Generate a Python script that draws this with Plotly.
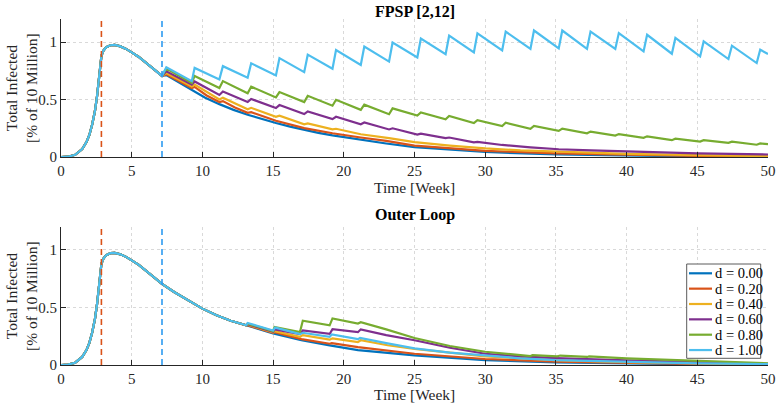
import plotly.graph_objects as go
from plotly.subplots import make_subplots

# ---------------- data ----------------
labels = ["d = 0.00", "d = 0.20", "d = 0.40", "d = 0.60", "d = 0.80", "d = 1.00"]
colors = ["#0072BD", "#D95319", "#EDB120", "#7E2F8E", "#77AC30", "#4DBEEE"]

t_vline_red = 2.857
t_vline_blue = 7.143

# common initial epidemic curve (weeks, % of 10 million)
t_pre = [0, 0.5, 1.0, 1.5, 1.8, 2.0, 2.2, 2.4, 2.55, 2.7, 2.86, 3.0, 3.2, 3.5, 3.8, 4.2, 4.6, 5.0, 5.5, 6.0, 6.5, 7.14]
v_pre = [0, 0.003, 0.02, 0.07, 0.13, 0.19, 0.28, 0.40, 0.53, 0.70, 0.88, 0.925, 0.955, 0.972, 0.975, 0.962, 0.94, 0.91, 0.87, 0.82, 0.77, 0.705]

# ---- FPSP [2,12] (top) ----
top_t0 = [7.14, 7.45, 8.2, 9.25, 10.2, 11.2, 12.2, 13.2, 14.2, 15.2, 16.2, 17.2, 18.2, 19.2, 21.2, 23, 25, 27.5, 30, 35, 40, 45, 50]
top_v0 = [0.705, 0.712, 0.66, 0.585, 0.515, 0.46, 0.41, 0.368, 0.33, 0.296, 0.265, 0.237, 0.21, 0.188, 0.15, 0.118, 0.086, 0.062, 0.044, 0.022, 0.011, 0.005, 0.002]

top_t1 = [7.14, 7.45, 8.3, 9.25, 9.45, 10.3, 11.2, 11.45, 12.3, 13.2, 13.45, 15.2, 17.2, 19.2, 21.2, 23, 25, 27.5, 30, 35, 40, 45, 50]
top_v1 = [0.705, 0.72, 0.665, 0.60, 0.61, 0.535, 0.478, 0.486, 0.43, 0.385, 0.39, 0.316, 0.252, 0.207, 0.17, 0.14, 0.10, 0.075, 0.054, 0.032, 0.018, 0.01, 0.005]

top_t2 = [7.14, 7.45, 9.25, 9.45, 11.2, 11.45, 13.2, 13.45, 15.2, 15.45, 17.2, 17.45, 19.2, 19.45, 21.2, 23.2, 25, 27.5, 30, 32.5, 35, 40, 45, 50]
top_v2 = [0.705, 0.73, 0.614, 0.63, 0.50, 0.515, 0.415, 0.428, 0.35, 0.36, 0.285, 0.293, 0.24, 0.246, 0.198, 0.165, 0.13, 0.10, 0.075, 0.058, 0.046, 0.028, 0.016, 0.008]

top_t3 = [7.14, 7.45, 9.25, 9.45, 11.2, 11.45, 13.2, 13.45, 15.2, 15.45, 17.2, 17.45, 19.2, 19.45, 21.2, 21.45, 23.2, 23.45, 25.2, 25.45, 27.2, 27.45, 29.2, 29.45, 31.2, 33.2, 35.2, 37.5, 40, 45, 50]
top_v3 = [0.705, 0.745, 0.63, 0.657, 0.54, 0.57, 0.478, 0.505, 0.426, 0.452, 0.374, 0.397, 0.33, 0.35, 0.285, 0.30, 0.24, 0.25, 0.195, 0.203, 0.165, 0.17, 0.128, 0.132, 0.105, 0.085, 0.068, 0.058, 0.048, 0.032, 0.022]

top_t4 = [7.14, 7.45, 9.25, 9.45, 11.2, 11.45, 13.2, 13.45, 15.2, 15.45, 17.2, 17.45, 19.2, 19.45, 21.2, 21.45, 23.2, 23.45, 25.2, 25.45, 27.2, 27.45, 29.2, 29.45, 31.2, 31.45, 33.2, 33.45, 35.2, 35.45, 37.2, 37.45, 39.2, 39.45, 41.2, 41.45, 43.2, 43.45, 45.2, 45.45, 47.2, 47.45, 49.2, 49.45, 50.0]
top_v4 = [0.705, 0.77, 0.645, 0.705, 0.60, 0.66, 0.555, 0.612, 0.518, 0.565, 0.478, 0.532, 0.446, 0.498, 0.41, 0.455, 0.372, 0.423, 0.36, 0.388, 0.328, 0.357, 0.295, 0.321, 0.27, 0.298, 0.245, 0.271, 0.227, 0.247, 0.206, 0.221, 0.187, 0.20, 0.167, 0.18, 0.147, 0.16, 0.135, 0.147, 0.123, 0.134, 0.107, 0.118, 0.113]

top_t5 = [7.14, 7.45, 9.25, 9.45, 11.2, 11.45, 13.2, 13.45, 15.2, 15.45, 17.2, 17.45, 19.2, 19.45, 21.2, 21.45, 23.2, 23.45, 25.2, 25.45, 27.2, 27.45, 29.2, 29.45, 31.2, 31.45, 33.2, 33.45, 35.2, 35.45, 37.2, 37.45, 39.2, 39.45, 41.2, 41.45, 43.2, 43.45, 45.2, 45.45, 47.2, 47.45, 49.2, 49.45, 50.0]
top_v5 = [0.705, 0.78, 0.66, 0.775, 0.675, 0.79, 0.69, 0.815, 0.71, 0.86, 0.738, 0.89, 0.767, 0.93, 0.80, 0.96, 0.83, 0.995, 0.865, 1.03, 0.895, 1.055, 0.91, 1.075, 0.927, 1.09, 0.94, 1.10, 0.945, 1.10, 0.94, 1.09, 0.94, 1.078, 0.918, 1.063, 0.898, 1.035, 0.875, 1.005, 0.852, 0.968, 0.817, 0.933, 0.895]

# ---- Outer Loop (bottom) ----
bot_t_common = [8.0, 9.0, 10.0, 11.0, 12.0, 13.1]
bot_v_common = [0.635, 0.565, 0.49, 0.432, 0.385, 0.345]

bot_t0 = [13.2, 15.0, 17.0, 19.0, 21.0, 25, 30, 35, 40, 45, 50]
bot_v0 = [0.342, 0.275, 0.215, 0.17, 0.13, 0.083, 0.042, 0.022, 0.012, 0.006, 0.003]

bot_t1 = [13.2, 15.0, 15.1, 17.0, 19.0, 19.15, 21.0, 25, 30, 35, 40, 45, 50]
bot_v1 = [0.345, 0.28, 0.285, 0.225, 0.185, 0.19, 0.155, 0.098, 0.052, 0.03, 0.017, 0.009, 0.004]

bot_t2 = [13.2, 15.0, 15.1, 16.9, 17.1, 19.0, 19.2, 21.0, 21.2, 23.1, 25, 30, 35, 40, 45, 50]
bot_v2 = [0.35, 0.285, 0.295, 0.245, 0.26, 0.22, 0.232, 0.20, 0.215, 0.172, 0.14, 0.075, 0.042, 0.025, 0.013, 0.006]

bot_t3 = [13.2, 15.0, 15.1, 16.9, 17.1, 19.0, 19.2, 21.0, 21.2, 23, 25, 27.5, 30, 32.5, 35, 40, 45, 50]
bot_v3 = [0.355, 0.29, 0.31, 0.27, 0.30, 0.27, 0.312, 0.285, 0.31, 0.26, 0.215, 0.15, 0.098, 0.075, 0.06, 0.04, 0.022, 0.01]

bot_t4 = [13.2, 15.0, 15.1, 16.9, 17.1, 19.0, 19.2, 21.0, 21.2, 23, 25, 27.5, 30, 33.2, 33.35, 35.1, 35.3, 37.2, 37.35, 40, 45, 50]
bot_v4 = [0.36, 0.295, 0.33, 0.287, 0.385, 0.345, 0.405, 0.36, 0.372, 0.31, 0.235, 0.165, 0.115, 0.078, 0.085, 0.075, 0.082, 0.07, 0.075, 0.057, 0.033, 0.015]

bot_t5 = [13.2, 15.0, 15.15, 16.9, 17.1, 19.0, 19.15, 21.0, 21.15, 23, 25, 27.5, 30, 32.5, 35, 40, 45, 50]
bot_v5 = [0.365, 0.30, 0.325, 0.268, 0.28, 0.245, 0.265, 0.225, 0.235, 0.19, 0.145, 0.108, 0.08, 0.058, 0.042, 0.025, 0.014, 0.008]

x_ticks = [0, 5, 10, 15, 20, 25, 30, 35, 40, 45, 50]
y_ticks = [0, 0.5, 1]
y_tick_text = ["0", "0.5", "1"]

top_series = [(top_t0, top_v0), (top_t1, top_v1), (top_t2, top_v2),
              (top_t3, top_v3), (top_t4, top_v4), (top_t5, top_v5)]
bot_series = [(bot_t0, bot_v0), (bot_t1, bot_v1), (bot_t2, bot_v2),
              (bot_t3, bot_v3), (bot_t4, bot_v4), (bot_t5, bot_v5)]

# ---------------- figure ----------------
W, H = 777, 408
ML, MR, MT, MB = 61, 9, 19, 43
FONT = "Liberation Serif, Times New Roman, serif"
fig = make_subplots(rows=2, cols=1, vertical_spacing=0.202)

for i in range(6):
    t, v = top_series[i]
    fig.add_trace(go.Scatter(x=t_pre + t, y=v_pre + v, mode="lines",
                             line=dict(color=colors[i], width=2.2),
                             name=labels[i], showlegend=False), row=1, col=1)
for i in range(6):
    t, v = bot_series[i]
    fig.add_trace(go.Scatter(x=t_pre + bot_t_common + t, y=v_pre + bot_v_common + v,
                             mode="lines", line=dict(color=colors[i], width=2.2),
                             name=labels[i], showlegend=False), row=2, col=1)

for r in (1, 2):
    fig.add_trace(go.Scatter(x=[t_vline_red, t_vline_red], y=[0, 1.2], mode="lines",
                             line=dict(color="#D95319", width=1.6, dash="6px,4px"),
                             showlegend=False, hoverinfo="skip"), row=r, col=1)
    fig.add_trace(go.Scatter(x=[t_vline_blue, t_vline_blue], y=[0, 1.2], mode="lines",
                             line=dict(color="#2D9BF0", width=1.6, dash="6px,4px"),
                             showlegend=False, hoverinfo="skip"), row=r, col=1)

axis_common = dict(showgrid=True, gridcolor="#d9d9d9", griddash="dot", gridwidth=1,
                   zeroline=False, showline=True, linecolor="#262626", linewidth=1,
                   ticks="inside", ticklen=5, tickcolor="#262626", automargin=False,
                   tickfont=dict(family=FONT, size=15, color="#262626"))
fig.update_xaxes(range=[0, 50], tickvals=x_ticks, **axis_common)
fig.update_yaxes(range=[0, 1.2], tickvals=y_ticks, ticktext=y_tick_text, **axis_common)
fig.update_xaxes(domain=[0, 1])
fig.update_yaxes(domain=[0.601, 1.0], row=1, col=1)
fig.update_yaxes(domain=[0.0, 0.399], row=2, col=1)

plot_w = W - ML - MR
plot_h = H - MT - MB
def px(xp):   # window x pixel -> paper x
    return (xp - ML) / plot_w
def py(yp):   # window y pixel -> paper y
    return (H - MB - yp) / plot_h

ann = []
ann.append(dict(text="<b>FPSP [2,12]</b>", x=0.5, y=py(12), xref="paper", yref="paper",
                showarrow=False, xanchor="center", yanchor="middle",
                font=dict(family=FONT, size=16, color="#000000")))
ann.append(dict(text="<b>Outer Loop</b>", x=0.5, y=py(215), xref="paper", yref="paper",
                showarrow=False, xanchor="center", yanchor="middle",
                font=dict(family=FONT, size=16, color="#000000")))
for yy in (187, 395):
    ann.append(dict(text="Time [Week]", x=0.5, y=py(yy), xref="paper", yref="paper",
                    showarrow=False, xanchor="center", yanchor="middle",
                    font=dict(family=FONT, size=15.5, color="#262626")))
for yy in (88, 296):
    ann.append(dict(text="Total Infected<br>[% of 10 Million]", x=px(21), y=py(yy),
                    xref="paper", yref="paper", textangle=-90, showarrow=False,
                    xanchor="center", yanchor="middle",
                    font=dict(family=FONT, size=15.5, color="#262626")))

# legend box (MATLAB-style, compact), placed in the bottom panel
shapes = []
shapes.append(dict(type="rect", xref="paper", yref="paper", layer="above",
                   x0=px(686.7), x1=px(760.7), y0=py(358.3), y1=py(264),
                   fillcolor="white", line=dict(color="#5a5a5a", width=1)))
row_y0, row_dy = 273.3, 15.35
for i in range(6):
    yc = row_y0 + i * row_dy
    shapes.append(dict(type="line", xref="paper", yref="paper", layer="above",
                       x0=px(689), x1=px(712), y0=py(yc), y1=py(yc),
                       line=dict(color=colors[i], width=2.2)))
    ann.append(dict(text=labels[i], x=px(713), y=py(yc), xref="paper", yref="paper",
                    showarrow=False, xanchor="left", yanchor="middle",
                    font=dict(family=FONT, size=14.5, color="#000000")))

fig.update_layout(
    width=W, height=H,
    margin=dict(l=ML, r=MR, t=MT, b=MB, autoexpand=False),
    paper_bgcolor="white", plot_bgcolor="white",
    annotations=ann, shapes=shapes, showlegend=False,
)

fig.write_html("out.html", config={"displayModeBar": False},
               post_script="document.body.style.margin='0px';document.body.style.overflow='hidden';")
